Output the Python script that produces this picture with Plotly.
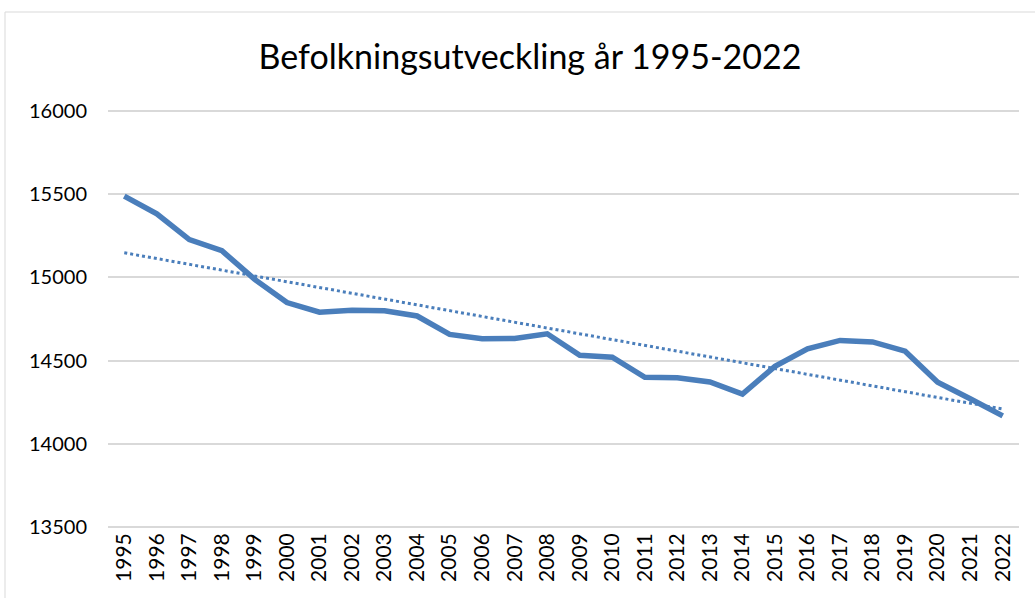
import numpy as np
import plotly.graph_objects as go

years = [str(y) for y in range(1995, 2023)]
population = [15490, 15383, 15228, 15161, 14990, 14849, 14791, 14803, 14799, 14768,
              14657, 14631, 14633, 14661, 14532, 14520, 14399, 14397, 14371, 14298,
              14465, 14570, 14621, 14612, 14556, 14369, 14270, 14167]
y_ticks = [13500, 14000, 14500, 15000, 15500, 16000]
title_text = "Befolkningsutveckling år 1995-2022"

idx = np.arange(len(population))
slope, intercept = np.polyfit(idx, population, 1)
trend = slope * idx + intercept

color = "#4A7EBB"
font_family = "Lato, Open Sans, sans-serif"

fig = go.Figure()
fig.add_trace(go.Scatter(x=years, y=population, mode="lines",
                         line=dict(color=color, width=5.5), showlegend=False))
fig.add_trace(go.Scatter(x=years, y=trend, mode="lines",
                         line=dict(color=color, width=3, dash="dot"), showlegend=False))

W, H = 1035, 598
pad = 8  # data units of padding so edge gridlines are drawn
ppu = (527 - 111) / 2500.0
L, R = 108, 16
T = int(round(111 - pad * ppu))
B = int(round(H - (527 + pad * ppu)))
pw = W - L - R
ph = H - T - B

fig.update_layout(
    width=W, height=H,
    margin=dict(l=L, r=R, t=T, b=B),
    paper_bgcolor="white", plot_bgcolor="white",
    title=dict(text=title_text, x=(530 - L) / pw, xref="paper", xanchor="center",
               y=1 - 57 / H, yanchor="middle",
               font=dict(family=font_family, size=34, color="black")),
    font=dict(family=font_family, color="black"),
    shapes=[dict(type="rect", xref="paper", yref="paper",
                 x0=(5 - L) / pw, x1=(1100 - L) / pw,
                 y0=-(700 - (H - B)) / ph, y1=1 + (T - 12) / ph,
                 line=dict(color="#D9D9D9", width=1), layer="below")],
)
fig.update_xaxes(type="category", range=[-0.5, len(years) - 0.5],
                 showgrid=False, showline=False, ticks="",
                 tickangle=-90, tickfont=dict(size=21, family=font_family))
fig.update_yaxes(range=[13500 - pad, 16000 + pad], tickvals=y_ticks,
                 ticktext=[str(v) for v in y_ticks],
                 showgrid=True, gridcolor="#D9D9D9", gridwidth=1.5,
                 zeroline=False, showline=False, ticks="",
                 ticklabelstandoff=20,
                 tickfont=dict(size=20, family=font_family))

fig.write_html("out.html", config={"displayModeBar": False},
               post_script="document.body.style.margin='0';document.body.style.overflow='hidden';")
